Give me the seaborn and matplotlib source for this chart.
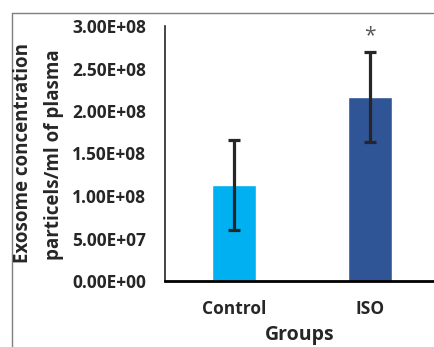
import matplotlib
matplotlib.use("Agg")
import matplotlib.pyplot as plt
import seaborn as sns
import pandas as pd
from matplotlib.lines import Line2D

groups = ["Control", "ISO"]
means = [1.13e8, 2.165e8]
errors = [0.53e8, 0.53e8]
colors = ["#00B0F0", "#2F5597"]
yticks = [0, 5e7, 1e8, 1.5e8, 2e8, 2.5e8, 3e8]
ytick_labels = ["0.00E+00", "5.00E+07", "1.00E+08", "1.50E+08", "2.00E+08", "2.50E+08", "3.00E+08"]

sns.set_theme(style="white")
plt.rcParams["font.family"] = ["Open Sans", "DejaVu Sans"]

W, H = 434, 347
fig = plt.figure(figsize=(W / 100, H / 100), dpi=100)
ax = fig.add_axes([165 / W, 1 - 281 / H, 1 - 165 / W, (281 - 26) / H])

df = pd.DataFrame({"Groups": groups, "Value": means})
sns.barplot(data=df, x="Groups", y="Value", hue="Groups", palette=colors,
            width=0.32, ax=ax, legend=False, errorbar=None, saturation=1)
ax.errorbar(range(len(groups)), means, yerr=errors, fmt="none",
            ecolor="#262626", elinewidth=2.3, capsize=4.5, capthick=2.3, zorder=5)

ax.set_xlim(-0.507, 1.47)
ax.set_ylim(0, 3e8)
ax.set_yticks(yticks)
ax.set_yticklabels(ytick_labels, fontsize=12.5, fontweight="bold")
ax.set_xticks(range(len(groups)))
ax.set_xticklabels(groups, fontsize=12.5, fontweight="bold")
ax.tick_params(axis="both", length=0)
ax.tick_params(axis="y", pad=13.5)
ax.tick_params(axis="x", pad=14)
ax.set_ylabel("")
ax.set_xlabel("Groups", fontsize=14, fontweight="bold", labelpad=5)

for s in ["top", "right"]:
    ax.spines[s].set_visible(False)
ax.spines["left"].set_color("#262626")
ax.spines["left"].set_linewidth(1.2)
ax.spines["bottom"].set_color("black")
ax.spines["bottom"].set_linewidth(2)

ax.text(1, 2.88e8, "*", ha="center", va="center", fontsize=15,
        color="#595959")

fig.text(23 / W, 1 - 153 / H, "Exosome concentration", rotation=90,
         ha="center", va="center", fontsize=13.5, fontweight="bold")
fig.text(54 / W, 1 - 155 / H, "particels/ml of plasma", rotation=90,
         ha="center", va="center", fontsize=13.5, fontweight="bold")

fig.add_artist(Line2D([12 / W, 12 / W], [1 - 13 / H, 0], color="#7f7f7f", lw=1))
fig.add_artist(Line2D([12 / W, 1], [1 - 13 / H, 1 - 13 / H], color="#7f7f7f", lw=1))

fig.savefig("out.png", dpi=100)
